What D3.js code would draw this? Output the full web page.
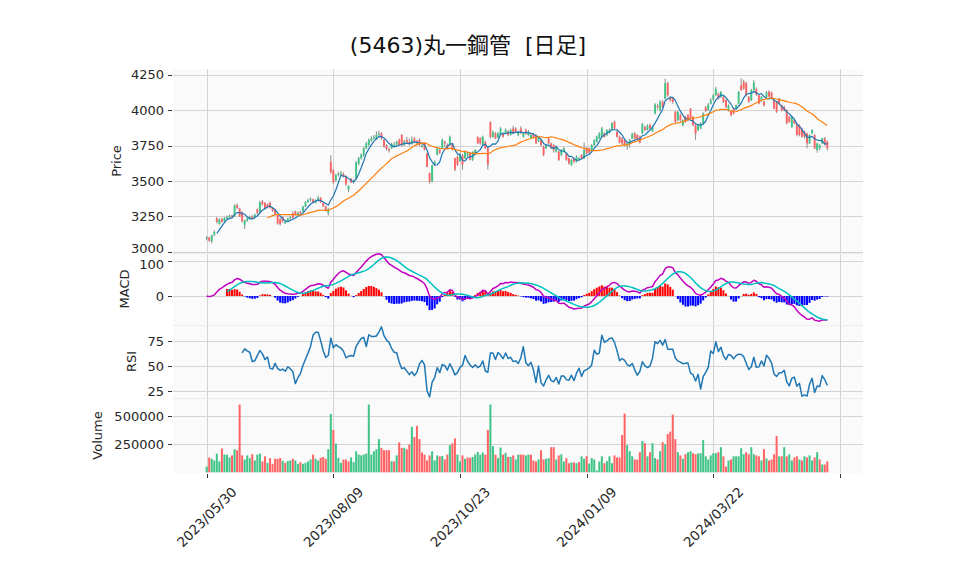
<!DOCTYPE html>
<html>
<head>
<meta charset="utf-8">
<script src="https://cdn.jsdelivr.net/npm/d3@7"></script>
<style>
  body { margin: 0; background: #fff; }
  text { font-family: "DejaVu Sans", "Noto Sans CJK JP", sans-serif; }
</style>
</head>
<body>
<div id="canvas"></div>
<script>
// ----------------------------------------------------------
// DATA -----------------------------------------------------
// ----------------------------------------------------------
var title_text = "(5463)丸一鋼管  [日足]";

var opens = [
3095,3100,3075,3120,3235,3195,3230,3215,3235,3245,3255,3250,3330,3305,3280,3190,3220,3235,3250,3240,
3300,3275,3355,3345,3335,3345,3310,3300,3260,3230,3245,3200,3215,3235,3270,3285,3260,3280,3285,3320,
3350,3365,3370,3345,3360,3380,3345,3320,3275,3635,3575,3505,3540,3545,3550,3530,3440,3515,3490,3515,
3620,3660,3680,3730,3755,3785,3800,3795,3825,3835,3790,3750,3725,3730,3745,3755,3790,3825,3755,3790,
3775,3760,3800,3780,3790,3740,3765,3695,3555,3495,3615,3685,3718,3730,3775,3755,3755,3765,3660,3670,
3640,3680,3660,3680,3695,3650,3685,3810,3800,3755,3775,3730,3915,3810,3835,3805,3825,3835,3835,3847,
3824,3870,3870,3824,3870,3812,3859,3824,3800,3830,3824,3780,3788,3742,3730,3800,3765,3753,3706,3706,
3683,3706,3695,3660,3613,3660,3636,3648,3683,3660,3730,3730,3706,3753,3777,3800,3812,3835,3824,3840,
3859,3917,3847,3812,3800,3788,3750,3765,3800,3835,3824,3812,3835,3880,3860,3894,3850,3976,4030,4000,
4058,4081,4190,4090,4081,3988,3929,3964,3894,3952,3964,4011,3952,3894,3859,3870,3906,4020,4000,4045,
4075,4105,4116,4093,4093,4070,3999,3988,4011,4011,4046,4175,4200,4190,4093,4070,4140,4150,4105,4070,
4058,4093,4130,4125,4070,4058,4081,4034,4023,3999,3952,3880,3929,3906,3894,3870,3847,3835,3765,3835,
3824,3718,3730,3765,3800,3777
];
var highs = [
3110,3105,3120,3150,3245,3235,3240,3245,3255,3262,3260,3335,3340,3310,3285,3225,3245,3255,3258,3268,
3305,3360,3365,3350,3340,3355,3315,3305,3265,3240,3250,3225,3240,3250,3285,3290,3285,3290,3325,3358,
3375,3385,3375,3370,3395,3385,3350,3325,3310,3680,3585,3550,3565,3570,3560,3540,3470,3520,3510,3640,
3670,3695,3740,3775,3800,3815,3825,3850,3855,3845,3795,3760,3735,3770,3775,3785,3800,3830,3790,3810,
3800,3815,3810,3790,3800,3770,3770,3700,3560,3615,3645,3740,3730,3800,3785,3765,3820,3770,3665,3680,
3700,3690,3715,3705,3700,3710,3725,3815,3810,3820,3785,3735,3920,3855,3845,3845,3880,3845,3870,3860,
3870,3890,3880,3855,3885,3845,3870,3860,3835,3840,3830,3820,3795,3750,3760,3810,3770,3760,3750,3712,
3725,3740,3700,3665,3655,3665,3680,3670,3690,3770,3740,3735,3760,3795,3820,3845,3882,3845,3865,3870,
3915,3925,3855,3820,3810,3795,3775,3795,3840,3845,3830,3820,3910,3890,3900,3905,3890,4050,4045,4070,
4070,4222,4200,4100,4090,3995,3995,3975,3935,3960,3970,4015,3960,3900,3900,3915,3985,4030,4050,4085,
4115,4165,4125,4135,4100,4075,4040,3995,4020,4040,4135,4225,4215,4200,4100,4150,4210,4160,4110,4100,
4065,4135,4140,4130,4075,4065,4085,4040,4030,4005,3960,3960,3940,3910,3900,3875,3855,3840,3830,3865,
3830,3770,3760,3805,3810,3785
];
var lows = [
3080,3070,3060,3110,3200,3190,3205,3210,3230,3240,3235,3245,3300,3245,3205,3160,3210,3228,3232,3235,
3255,3270,3325,3295,3305,3305,3280,3255,3190,3185,3205,3195,3210,3225,3235,3255,3255,3262,3280,3315,
3345,3355,3340,3340,3355,3345,3315,3285,3255,3550,3480,3495,3530,3535,3525,3465,3420,3485,3480,3510,
3610,3650,3670,3725,3745,3775,3790,3790,3815,3790,3735,3715,3700,3725,3740,3750,3750,3745,3745,3760,
3750,3755,3765,3750,3745,3735,3715,3595,3480,3490,3605,3680,3690,3725,3740,3725,3750,3715,3570,3605,
3635,3580,3655,3670,3645,3640,3680,3760,3755,3750,3725,3580,3800,3805,3795,3800,3820,3805,3830,3815,
3820,3830,3840,3815,3830,3805,3825,3815,3795,3800,3760,3775,3745,3675,3725,3760,3725,3700,3700,3640,
3675,3700,3640,3615,3605,3625,3630,3640,3655,3655,3690,3690,3700,3745,3770,3795,3805,3805,3815,3835,
3855,3865,3805,3765,3755,3745,3720,3735,3795,3795,3785,3765,3830,3850,3855,3860,3845,3970,4005,3990,
4015,4075,4095,4060,4045,3905,3920,3920,3885,3910,3920,3935,3885,3790,3850,3865,3900,3985,3995,4040,
4065,4100,4075,4085,4050,4015,3990,3955,3970,4005,4040,4135,4145,4095,4050,4065,4130,4100,4040,4060,
4025,4085,4090,4075,4005,3980,4040,3990,3990,3900,3910,3875,3900,3815,3815,3805,3800,3730,3760,3830,
3725,3700,3715,3760,3750,3715
];
var closes = [
3100,3078,3115,3140,3212,3228,3210,3238,3245,3255,3245,3325,3310,3250,3215,3222,3235,3245,3240,3262,
3275,3350,3335,3305,3315,3310,3290,3265,3200,3195,3215,3212,3235,3245,3240,3260,3275,3270,3318,3350,
3365,3372,3345,3360,3380,3350,3320,3295,3302,3560,3490,3540,3550,3555,3535,3475,3465,3490,3500,3630,
3660,3685,3730,3765,3790,3800,3810,3825,3835,3800,3745,3725,3715,3760,3755,3775,3755,3750,3780,3770,
3760,3790,3775,3765,3755,3750,3720,3600,3495,3610,3635,3730,3698,3790,3765,3730,3810,3720,3580,3615,
3690,3615,3705,3695,3650,3705,3718,3765,3765,3810,3730,3615,3810,3845,3800,3835,3870,3812,3859,3824,
3859,3835,3847,3847,3840,3835,3835,3847,3824,3810,3765,3812,3753,3683,3753,3765,3730,3718,3742,3648,
3718,3730,3648,3624,3648,3636,3671,3660,3660,3718,3695,3700,3753,3788,3812,3835,3870,3812,3859,3859,
3906,3870,3812,3770,3765,3753,3765,3788,3835,3800,3790,3770,3900,3860,3890,3870,3880,4040,4020,4058,
4023,4190,4105,4070,4058,3917,3988,3929,3929,3917,3929,3941,3894,3835,3894,3906,3976,3995,4040,4070,
4105,4150,4081,4128,4058,4023,4034,3964,3976,4034,4128,4140,4152,4105,4060,4140,4195,4110,4046,4093,
4034,4128,4096,4081,4011,3988,4046,3999,3999,3906,3917,3952,3906,3824,3824,3812,3812,3765,3824,3859,
3730,3765,3753,3800,3760,3730
];
var volumes = [
51,132,120,105,166,96,211,157,157,132,150,205,196,602,150,114,150,126,160,105,
157,166,96,142,84,126,75,120,120,126,102,84,99,105,120,105,75,90,75,84,
96,114,157,120,105,129,136,120,205,518,376,256,129,84,114,114,96,132,90,187,
157,150,157,166,602,157,187,205,295,217,196,196,196,99,96,150,265,217,217,205,
247,404,313,413,295,175,157,105,150,187,105,150,142,145,114,157,241,256,301,157,
96,150,120,132,129,136,157,181,157,175,157,376,602,232,157,126,220,157,172,136,
136,150,114,157,157,157,150,157,157,105,96,114,196,114,120,126,223,223,114,150,
160,96,126,81,87,87,81,90,142,120,142,78,126,114,15,96,142,81,99,142,
81,150,132,132,331,521,241,187,142,114,114,178,277,259,142,178,259,126,114,187,
268,250,340,361,512,295,178,150,120,160,178,187,169,160,169,169,286,142,114,150,
169,169,178,223,142,51,105,114,142,142,142,214,160,178,160,223,160,150,142,105,
205,123,105,114,160,322,142,142,223,142,160,105,132,142,114,105,142,132,150,105,
132,178,114,69,69,96
].map(function (v) { return v * 1000; });

// x axis: trading-day index of each labelled tick
var tick_index = [0, 50, 100, 150, 200, 250];
var tick_label = ["2023/05/30", "2023/08/09", "2023/10/23", "2024/01/09", "2024/03/22", ""];

var price_ticks = [3000, 3250, 3500, 3750, 4000, 4250];
var macd_ticks = [0, 100];
var rsi_ticks = [25, 50, 75];
var volume_ticks = [250000, 500000];

var data_set = {
  container_width: 958,
  container_height: 575,
  color_panel: "#fafafa",
  color_grid: "#d3d3d3",
  color_up: "#40c488",
  color_down: "#fe6465",
  color_wick: "#8c8c8c",
  color_text: "#262626",
  font_tick: "13px"
};

// ----------------------------------------------------------
// INDICATORS -----------------------------------------------
// ----------------------------------------------------------
function sma(arr, n) {
  return arr.map(function (v, i) {
    if (i < n - 1) return null;
    return d3.mean(arr.slice(i - n + 1, i + 1));
  });
}
function ema(arr, n) {
  var a = 2 / (n + 1), out = [];
  arr.forEach(function (v, i) { out.push(i === 0 ? v : a * v + (1 - a) * out[i - 1]); });
  return out;
}
var ma_short = sma(closes, 5);
var ma_long = sma(closes, 25);
var ema12 = ema(closes, 12), ema26 = ema(closes, 26);
var macd = closes.map(function (c, i) { return ema12[i] - ema26[i]; });
var signal = sma(macd, 9);
var hist = macd.map(function (m, i) { return signal[i] === null ? null : m - signal[i]; });
var rsi = closes.map(function (c, i) {
  if (i < 14) return null;
  var g = 0, l = 0;
  for (var k = i - 13; k <= i; k++) {
    var d = closes[k] - closes[k - 1];
    if (d > 0) g += d; else l -= d;
  }
  return 100 * g / (g + l);
});

// ----------------------------------------------------------
// STRUCTURE ------------------------------------------------
// ----------------------------------------------------------
var svg = d3.select("#canvas").append("svg")
  .attr("width", data_set.container_width)
  .attr("height", data_set.container_height)
  .style("background-color", "#fff");

var x_left = 173, x_right = 863;
var xScale = d3.scaleLinear().domain([-13.3, 259.1]).range([x_left, x_right]);
var step = xScale(1) - xScale(0);

var panels = [
  { name: "price", top: 69, bottom: 253, label: "Price", label_x: 116,
    y: d3.scaleLinear().domain([3000, 4250]).range([251.7, 74.7]), ticks: price_ticks },
  { name: "macd", top: 253, bottom: 325, label: "MACD", label_x: 124,
    y: d3.scaleLinear().domain([0, 100]).range([296, 261]), ticks: macd_ticks },
  { name: "rsi", top: 325, bottom: 398, label: "RSI", label_x: 131,
    y: d3.scaleLinear().domain([25, 75]).range([391, 341]), ticks: rsi_ticks },
  { name: "volume", top: 398, bottom: 473, label: "Volume", label_x: 97,
    y: d3.scaleLinear().domain([0, 500000]).range([472.3, 416]), ticks: volume_ticks }
];
var P = {};
panels.forEach(function (p) { P[p.name] = p; });

// small nudges so the stacked edge labels (3000 / 100) stay apart
var label_nudge = { "price_3000": -3, "macd_100": 3 };

var defs = svg.append("defs");
var layout_group = svg.append("g").attr("class", "layout_group");
var gfx_group = svg.append("g").attr("class", "gfx_group");
var text_group = svg.append("g").attr("class", "text_group");

panels.forEach(function (p) {
  defs.append("clipPath").attr("id", "clip_" + p.name)
    .append("rect").attr("x", x_left).attr("y", p.top)
    .attr("width", x_right - x_left).attr("height", p.bottom - p.top);

  layout_group.append("rect")
    .attr("x", x_left).attr("y", p.top)
    .attr("width", x_right - x_left).attr("height", p.bottom - p.top)
    .style("fill", data_set.color_panel);

  // horizontal grid + y ticks
  p.ticks.forEach(function (t) {
    var yy = Math.round(p.y(t)) + 0.5;
    layout_group.append("line")
      .attr("x1", x_left).attr("x2", x_right).attr("y1", yy).attr("y2", yy)
      .style("stroke", data_set.color_grid).style("stroke-width", 1);
    layout_group.append("line")
      .attr("x1", x_left - 5).attr("x2", x_left - 1).attr("y1", yy).attr("y2", yy)
      .style("stroke", "#333").style("stroke-width", 1);
    text_group.append("text")
      .attr("x", x_left - 9).attr("y", p.y(t) + (label_nudge[p.name + "_" + t] || 0))
      .attr("dy", "0.36em")
      .attr("text-anchor", "end")
      .style("font-size", data_set.font_tick).style("fill", data_set.color_text)
      .text(t);
  });

  // vertical grid
  tick_index.forEach(function (ti) {
    var xx = Math.round(xScale(ti)) + 0.5;
    layout_group.append("line")
      .attr("x1", xx).attr("x2", xx).attr("y1", p.top).attr("y2", p.bottom)
      .style("stroke", data_set.color_grid).style("stroke-width", 1);
  });

  text_group.append("text")
    .attr("transform", "translate(" + p.label_x + "," + ((p.top + p.bottom) / 2) + ") rotate(-90)")
    .attr("text-anchor", "middle").attr("dy", "0.36em")
    .style("font-size", data_set.font_tick).style("fill", data_set.color_text)
    .text(p.label);
});

// panel separators
[253, 325, 398].forEach(function (yy) {
  layout_group.append("line")
    .attr("x1", x_left).attr("x2", x_right).attr("y1", yy + 0.5).attr("y2", yy + 0.5)
    .style("stroke", "#ececec").style("stroke-width", 1);
});

// ----------------------------------------------------------
// GFX ------------------------------------------------------
// ----------------------------------------------------------
var candles = closes.map(function (c, i) {
  return { i: i, o: opens[i], h: highs[i], l: lows[i], c: c, v: volumes[i] };
});

// PRICE
var g_price = gfx_group.append("g").attr("clip-path", "url(#clip_price)");
var yP = P.price.y;
g_price.selectAll(".wick").data(candles).enter().append("line")
  .attr("x1", function (d) { return xScale(d.i); })
  .attr("x2", function (d) { return xScale(d.i); })
  .attr("y1", function (d) { return yP(d.h); })
  .attr("y2", function (d) { return yP(d.l); })
  .style("stroke", data_set.color_wick).style("stroke-width", 1);
g_price.selectAll(".body").data(candles).enter().append("rect")
  .attr("x", function (d) { return xScale(d.i) - step * 0.38; })
  .attr("width", step * 0.76)
  .attr("y", function (d) { return yP(Math.max(d.o, d.c)); })
  .attr("height", function (d) { return Math.max(0.8, Math.abs(yP(d.o) - yP(d.c))); })
  .style("fill", function (d) { return d.c >= d.o ? data_set.color_up : data_set.color_down; });

function drawLine(g, values, yScale, color, width) {
  var line = d3.line()
    .defined(function (d) { return d !== null; })
    .x(function (d, i) { return xScale(i); })
    .y(function (d) { return yScale(d); });
  g.append("path").datum(values).attr("d", line)
    .style("fill", "none").style("stroke", color).style("stroke-width", width)
    .style("stroke-linejoin", "round");
}
drawLine(g_price, ma_short, yP, "#1f77b4", 1.2);
drawLine(g_price, ma_long, yP, "#ff7f0e", 1.2);

// MACD
var g_macd = gfx_group.append("g").attr("clip-path", "url(#clip_macd)");
var yM = P.macd.y;
g_macd.selectAll(".hist").data(hist.map(function (h, i) { return { i: i, h: h }; })
  .filter(function (d) { return d.h !== null; }))
  .enter().append("rect")
  .attr("x", function (d) { return xScale(d.i) - step * 0.4; })
  .attr("width", step * 0.8)
  .attr("y", function (d) { return Math.min(yM(0), yM(d.h)); })
  .attr("height", function (d) { return Math.abs(yM(d.h) - yM(0)); })
  .style("fill", function (d) { return d.h >= 0 ? "#ff0000" : "#0000ff"; });
drawLine(g_macd, macd, yM, "#bf00bf", 1.5);
drawLine(g_macd, signal, yM, "#00bfbf", 1.5);

// RSI
var g_rsi = gfx_group.append("g").attr("clip-path", "url(#clip_rsi)");
drawLine(g_rsi, rsi, P.rsi.y, "#1f77b4", 1.5);

// VOLUME
var g_vol = gfx_group.append("g").attr("clip-path", "url(#clip_volume)");
var yV = P.volume.y;
g_vol.selectAll(".vol").data(candles).enter().append("rect")
  .attr("x", function (d) { return xScale(d.i) - step * 0.4; })
  .attr("width", step * 0.8)
  .attr("y", function (d) { return yV(d.v); })
  .attr("height", function (d) { return yV(0) - yV(d.v); })
  .style("fill", function (d) {
    var up = d.i === 0 ? d.c >= d.o : d.c >= closes[d.i - 1];
    return up ? data_set.color_up : data_set.color_down;
  });

// ----------------------------------------------------------
// X AXIS + TITLE -------------------------------------------
// ----------------------------------------------------------
tick_index.forEach(function (ti, k) {
  var xx = Math.round(xScale(ti)) + 0.5;
  layout_group.append("line")
    .attr("x1", xx).attr("x2", xx).attr("y1", 474).attr("y2", 478)
    .style("stroke", "#333").style("stroke-width", 1);
  text_group.append("text")
    .attr("transform", "translate(" + xScale(ti) + ",517) rotate(-45)")
    .attr("text-anchor", "middle").attr("dy", "0.36em")
    .style("font-size", "13.5px").style("fill", data_set.color_text)
    .text(tick_label[k]);
});

text_group.append("text")
  .attr("x", 468).attr("y", 53)
  .attr("text-anchor", "middle")
  .style("font-size", "22px").style("fill", "#111")
  .style("white-space", "pre")
  .text(title_text);
</script>
</body>
</html>
